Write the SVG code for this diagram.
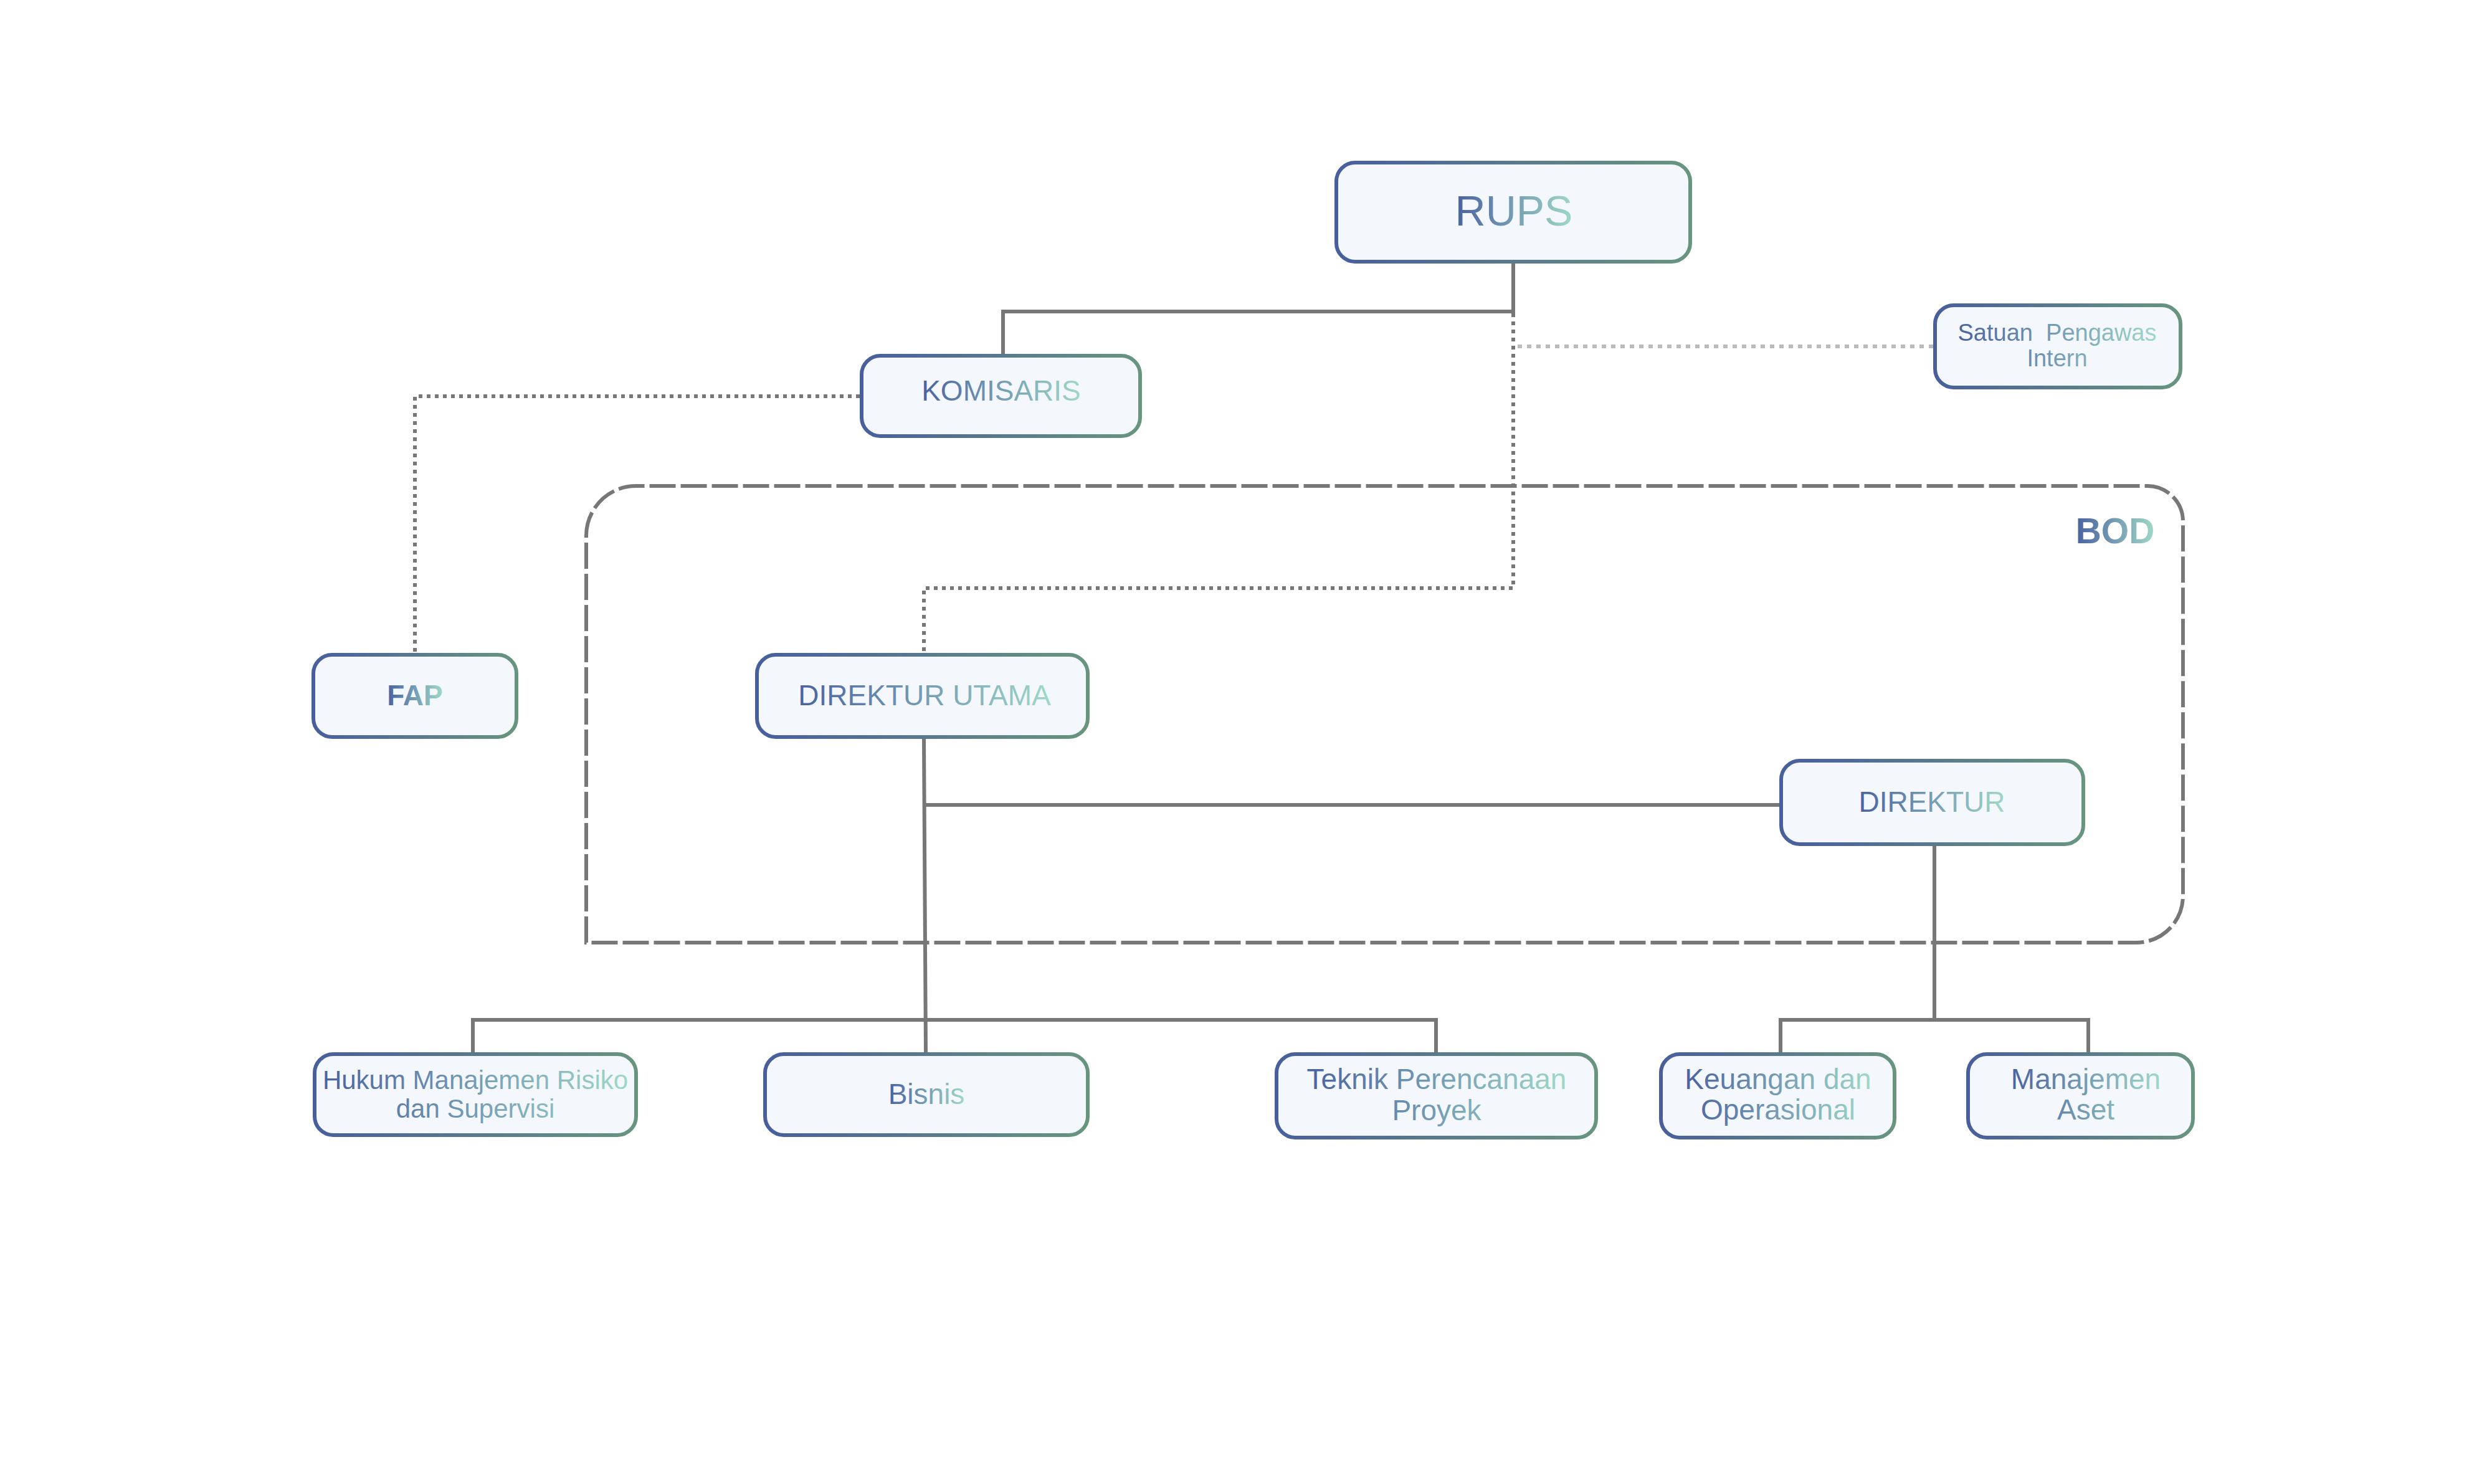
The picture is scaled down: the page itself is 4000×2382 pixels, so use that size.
<svg xmlns="http://www.w3.org/2000/svg" width="4000" height="2382" viewBox="0 0 4000 2382">
<defs>
<linearGradient id="gs" x1="0" y1="0" x2="1" y2="0">
<stop offset="0" stop-color="#485f9c"/>
<stop offset="1" stop-color="#68957f"/>
</linearGradient>
<linearGradient id="gt" x1="0" y1="0" x2="1" y2="0">
<stop offset="0" stop-color="#4a62a0"/>
<stop offset="1" stop-color="#9fd8c7"/>
</linearGradient>
<style>
.box{fill:#f4f7fc;stroke:url(#gs);stroke-width:6}
.t{font-family:"Liberation Sans",Arial,sans-serif;fill:url(#gt);text-anchor:middle}
.b{font-weight:bold}
.solid{fill:none;stroke:#777777;stroke-width:6}
.dot{fill:none;stroke:#777777;stroke-width:6;stroke-dasharray:6 7}
.ldot{fill:none;stroke:#bbbbbb;stroke-width:6;stroke-dasharray:7 8}
.dash{fill:none;stroke:#777777;stroke-width:6;stroke-dasharray:42 8}
</style>
</defs>
<rect width="4000" height="2382" fill="#ffffff"/>
<g id="bod">
<path class="dash" d="M941,1513 L941,860 A80,80 0 0 1 1021,780 L3447,780 A57,57 0 0 1 3504,837 L3504,1438 A75,75 0 0 1 3429,1513 Z"/>
<text class="t b" x="3395" y="872" font-size="57">BOD</text>
</g>
<g id="connectors">
<polyline class="solid" points="2429,423 2429,500 1610,500 1610,568"/>
<polyline class="dot" points="2429,503 2429,944 1483,944 1483,1048"/>
<line class="ldot" x1="2436" y1="556" x2="3103" y2="556"/>
<polyline class="dot" points="1380,636 666,636 666,1048"/>
<line class="solid" x1="1483" y1="1186" x2="1486" y2="1689"/>
<line class="solid" x1="1483" y1="1292" x2="2856" y2="1292"/>
<polyline class="solid" points="759,1689 759,1637 2305,1637 2305,1689"/>
<polyline class="solid" points="3105,1358 3105,1637"/>
<polyline class="solid" points="2858,1689 2858,1637 3352,1637 3352,1689"/>
</g>
<g id="rups">
<rect class="box" x="2145" y="261" width="568" height="159" rx="30"/>
<text class="t" x="2430" y="362" font-size="68">RUPS</text>
</g>
<g id="komisaris">
<rect class="box" x="1383" y="571" width="447" height="129" rx="30"/>
<text class="t" x="1607" y="643" font-size="46">KOMISARIS</text>
</g>
<g id="spi">
<rect class="box" x="3106" y="490" width="394" height="132" rx="30"/>
<text class="t" x="3302" y="547" font-size="38" xml:space="preserve" style="white-space:pre"><tspan x="3302" y="547">Satuan  Pengawas</tspan><tspan x="3302" y="588">Intern</tspan></text>
</g>
<g id="fap">
<rect class="box" x="503" y="1051" width="326" height="132" rx="30"/>
<text class="t b" x="666" y="1132" font-size="46">FAP</text>
</g>
<g id="direktur-utama">
<rect class="box" x="1215" y="1051" width="531" height="132" rx="30"/>
<text class="t" x="1484" y="1132" font-size="46">DIREKTUR UTAMA</text>
</g>
<g id="direktur">
<rect class="box" x="2859" y="1221" width="485" height="134" rx="30"/>
<text class="t" x="3101" y="1303" font-size="46">DIREKTUR</text>
</g>
<g id="hukum">
<rect class="box" x="505" y="1692" width="516" height="130" rx="30"/>
<text class="t" font-size="42"><tspan x="763" y="1748">Hukum Manajemen Risiko</tspan><tspan x="763" y="1794">dan Supervisi</tspan></text>
</g>
<g id="bisnis">
<rect class="box" x="1228" y="1692" width="518" height="130" rx="30"/>
<text class="t" x="1487" y="1772" font-size="46">Bisnis</text>
</g>
<g id="teknik">
<rect class="box" x="2049" y="1692" width="513" height="134" rx="30"/>
<text class="t" font-size="46"><tspan x="2306" y="1748">Teknik Perencanaan</tspan><tspan x="2306" y="1798">Proyek</tspan></text>
</g>
<g id="keuangan">
<rect class="box" x="2666" y="1692" width="375" height="134" rx="30"/>
<text class="t" font-size="46"><tspan x="2854" y="1748">Keuangan dan</tspan><tspan x="2854" y="1797">Operasional</tspan></text>
</g>
<g id="manajemen-aset">
<rect class="box" x="3159" y="1692" width="361" height="134" rx="30"/>
<text class="t" font-size="46"><tspan x="3348" y="1748">Manajemen</tspan><tspan x="3348" y="1797">Aset</tspan></text>
</g>
</svg>
